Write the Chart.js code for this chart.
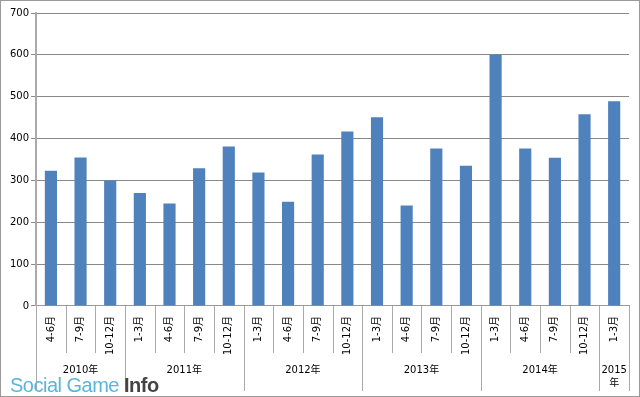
<!DOCTYPE html>
<html>
<head>
<meta charset="utf-8">
<script src="https://cdn.jsdelivr.net/npm/chart.js@4/dist/chart.umd.min.js"></script>
<style>
  body { margin: 0; background: #fff; }
  .wrap { position: relative; width: 640px; height: 397px; box-sizing: border-box; border: 1px solid #999; overflow: hidden; }
  canvas { position: absolute; left: 0; top: 0; }
  .mark { position: absolute; left: 9px; top: 373px; font-family: "Liberation Sans", Arial, sans-serif; font-size: 20px; letter-spacing: -0.5px; line-height: 22px; }
  .mark .a { color: #5bb5d8; }
  .mark .b { color: #444; font-weight: bold; }
</style>
</head>
<body>
<div class="wrap">
  <canvas id="c" width="640" height="397"></canvas>
  <div class="mark"><span class="a">Social Game </span><span class="b">Info</span></div>
</div>
<script>
const quarters = ["4-6月", "7-9月", "10-12月",
  "1-3月", "4-6月", "7-9月", "10-12月",
  "1-3月", "4-6月", "7-9月", "10-12月",
  "1-3月", "4-6月", "7-9月", "10-12月",
  "1-3月", "4-6月", "7-9月", "10-12月",
  "1-3月"];
const years = ["2010年", "2011年", "2012年", "2013年", "2014年", ["2015", "年"]];
const yearSizes = [3, 4, 4, 4, 4, 1];
const values = [323, 355, 300, 270, 245, 329, 381, 319, 249, 362, 417, 451, 240, 376, 335, 600, 376, 354, 458, 489];

const FONT = '"DejaVu Sans", "Noto Sans CJK JP", sans-serif';

// quarter separators + year group labels under the axis
const groupAxis = {
  id: "groupAxis",
  afterDraw(chart) {
    const ctx = chart.ctx;
    const x = chart.scales.x;
    const area = chart.chartArea;
    const n = quarters.length;
    const edge = i => i === 0 ? area.left : i === n ? area.right
      : (x.getPixelForValue(i - 1) + x.getPixelForValue(i)) / 2;
    const yearStarts = [0];
    yearSizes.forEach(s => yearStarts.push(yearStarts[yearStarts.length - 1] + s));

    ctx.save();
    ctx.strokeStyle = "#aaa";
    ctx.lineWidth = 1;
    for (let i = 0; i <= n; i++) {
      const px = Math.round(edge(i)) + 0.5;
      const long = yearStarts.includes(i);
      ctx.beginPath();
      ctx.moveTo(px, area.bottom);
      ctx.lineTo(px, long ? 390 : 352);
      ctx.stroke();
    }
    ctx.fillStyle = "#000";
    ctx.font = "10px " + FONT;
    ctx.textAlign = "center";
    ctx.textBaseline = "middle";
    years.forEach((label, k) => {
      const cx = (edge(yearStarts[k]) + edge(yearStarts[k + 1])) / 2;
      const lines = Array.isArray(label) ? label : [label];
      lines.forEach((t, j) => ctx.fillText(t, cx, 369 + j * 13));
    });
    ctx.restore();
  }
};

new Chart(document.getElementById("c"), {
  type: "bar",
  data: {
    labels: quarters,
    datasets: [{
      data: values,
      backgroundColor: "#4f81bd",
      barPercentage: 0.41,
      categoryPercentage: 1
    }]
  },
  options: {
    responsive: false,
    animation: false,
    layout: { padding: { left: 7, right: 12, top: 12, bottom: 33 } },
    plugins: { legend: { display: false }, tooltip: { enabled: false } },
    scales: {
      x: {
        grid: { display: false, drawTicks: false },
        border: { color: "#999" },
        ticks: {
          color: "#000",
          font: { family: FONT, size: 10 },
          minRotation: 90,
          maxRotation: 90,
          autoSkip: false,
          padding: 10
        }
      },
      y: {
        min: 0,
        max: 700,
        grid: { color: "#888", tickLength: 5 },
        border: { color: "#aaa", width: 2 },
        ticks: {
          stepSize: 100,
          color: "#000",
          font: { family: FONT, size: 10 },
          padding: 2
        }
      }
    }
  },
  plugins: [groupAxis]
});
</script>
</body>
</html>
